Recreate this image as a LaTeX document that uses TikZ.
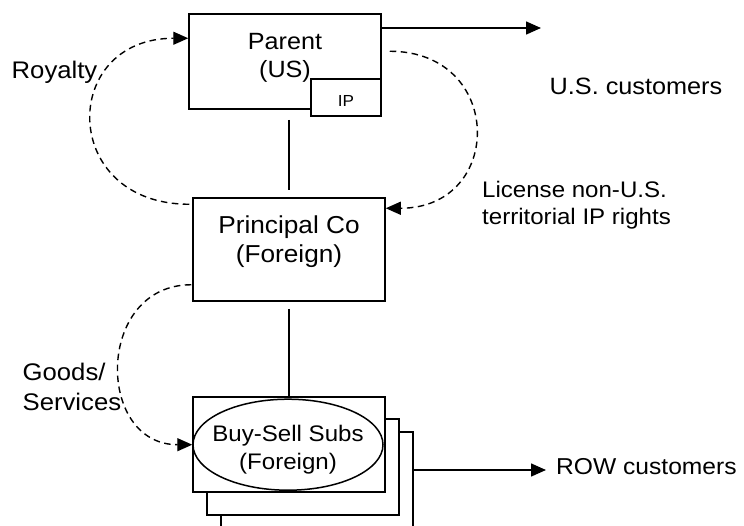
\documentclass[tikz,border=0pt]{standalone}
\usepackage{fontspec}
\setmainfont{Liberation Sans}[FakeStretch=1.07]
\usetikzlibrary{arrows.meta,shapes.geometric,calc}
\begin{document}
\begin{tikzpicture}[x=1pt,y=-1pt,
  box/.style={draw, line width=1.5pt, rectangle, inner sep=0pt, fill=white, minimum width=192pt},
  lbl/.style={inner sep=0pt, anchor=base west},
  conn/.style={line width=1.5pt},
  arr/.style={line width=1.5pt, -{Triangle[length=15pt,width=13pt]}},
  dasharr/.style={line width=1.4pt, dash pattern=on 6.5pt off 4.5pt, -{Triangle[length=15pt,width=13pt]}},
]
\useasboundingbox (0,0) rectangle (744,525);

% boxes
\node[box, minimum height=95pt, text height=0pt, text depth=25pt,
      font=\fontsize{23.5}{28}\selectfont] (parent) at (285,61.5)
      {\begin{tabular}[t]{@{}c@{}}Parent\\(US)\end{tabular}};
\node[box, minimum width=70pt, minimum height=37pt, text height=17pt, text depth=0pt,
      font=\fontsize{16}{19}\selectfont] (ip) at (346,97.5) {IP};
\node[box, minimum height=103pt, text height=0pt, text depth=32pt,
      font=\fontsize{24.5}{28.5}\selectfont] (principal) at (289,249.5)
      {\begin{tabular}[t]{@{}c@{}}Principal Co\\(Foreign)\end{tabular}};
\node[box, minimum height=96pt] (sub3) at (317,480) {};
\node[box, minimum height=96pt] (sub2) at (303,467) {};
\node[box, minimum height=95pt] (sub1) at (289,444.5) {};
\node[draw, ellipse, line width=1.5pt, inner sep=0pt, minimum width=190pt, minimum height=91pt,
      text height=0pt, text depth=6pt, font=\fontsize{22.5}{28}\selectfont] (subs) at (288,444.7)
      {\makebox[0pt][c]{\begin{tabular}[t]{@{}c@{}}Buy-Sell Subs\\(Foreign)\end{tabular}}};

% labels
\node[lbl, font=\fontsize{24}{28}\selectfont] (royalty) at (11.5,78) {Royalty};
\node[lbl, font=\fontsize{23.6}{28}\selectfont] (uscust) at (549.5,94) {U.S. customers};
\node[lbl, font=\fontsize{22.5}{26.6}\selectfont] (license) at (482,197.7)
      {\begin{tabular}[t]{@{}l@{}}License non-U.S.\\territorial IP rights\end{tabular}};
\node[lbl, font=\fontsize{24}{29.5}\selectfont] (goods) at (22.5,380.5)
      {\begin{tabular}[t]{@{}l@{}}Goods/\\Services\end{tabular}};
\node[lbl, font=\fontsize{23}{28}\selectfont] (rowcust) at (556,474.7) {ROW customers};

% solid connectors
\coordinate (usend) at (541,28);
\coordinate (rowend) at (546,470);
\draw[arr] (parent.east |- usend) -- (usend);
\draw[arr] (sub3.east |- rowend) -- (rowend);
\draw[conn, shorten <=10pt, shorten >=7pt] (parent.south -| principal.north) -- (principal.north);
\draw[conn, shorten <=7pt] (principal.south) -- (sub1.north);

% dashed flows
\draw[dasharr] ($(principal.north west)+(-3,7)$) .. controls +(-130,0) and +(-129,0) .. ($(parent.north west)+(0,25)$);
\draw[dasharr] ($(parent.north east)+(8,38)$) .. controls +(115,0) and +(119,0) .. ($(principal.north east)+(0,11)$);
\draw[dasharr] ($(principal.south west)+(-1,-17)$) .. controls +(-96,0) and +(-97,0) .. (subs.west);
\end{tikzpicture}
\end{document}
